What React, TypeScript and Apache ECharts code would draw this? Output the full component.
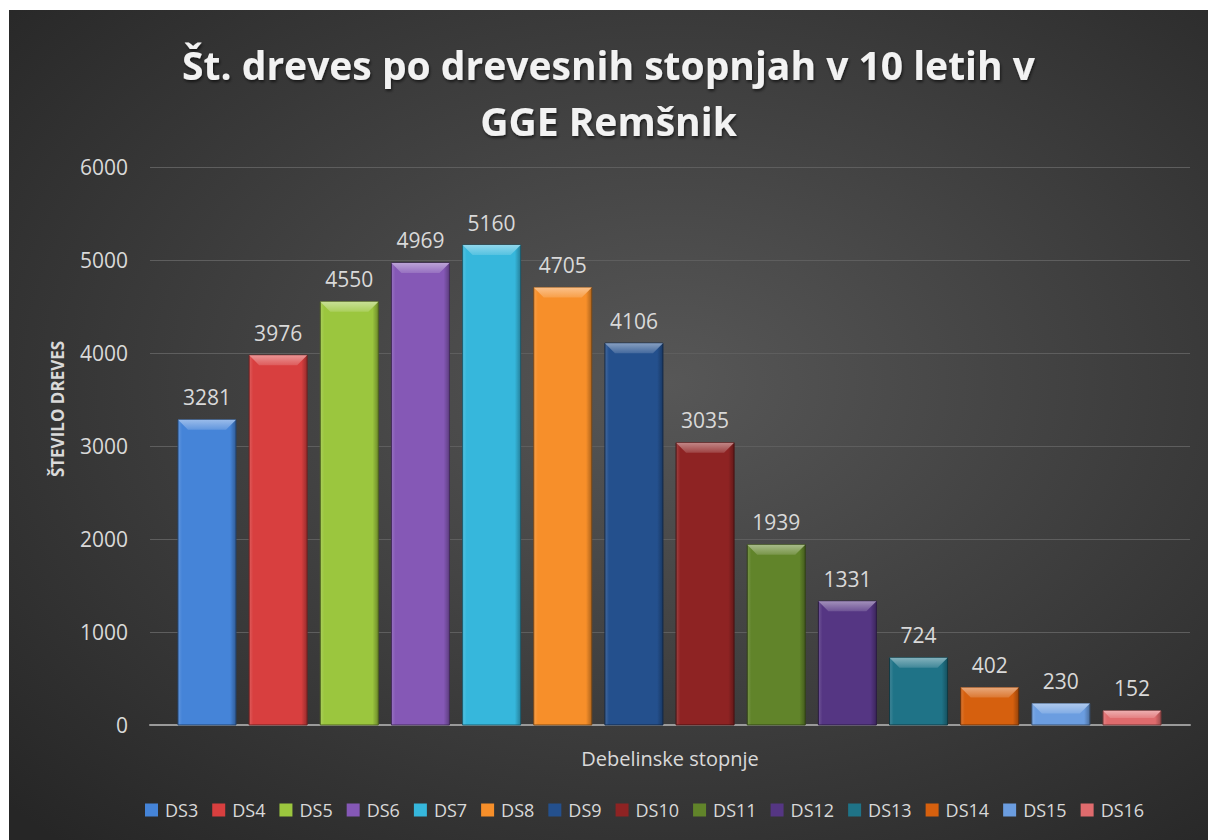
import React, { useEffect, useRef } from "react";
import * as echarts from "echarts";

const titleText = "Št. dreves po drevesnih stopnjah v 10 letih v\nGGE Remšnik";
const xAxisTitle = "Debelinske stopnje";
const yAxisTitle = "ŠTEVILO DREVES";
const categories = ["DS3", "DS4", "DS5", "DS6", "DS7", "DS8", "DS9", "DS10", "DS11", "DS12", "DS13", "DS14", "DS15", "DS16"];
const values = [3281, 3976, 4550, 4969, 5160, 4705, 4106, 3035, 1939, 1331, 724, 402, 230, 152];
const colors = ["#4584d8", "#d83f3f", "#9bc63e", "#8558b6", "#36b7dc", "#f78f2a", "#24508d", "#8e2323", "#61842a", "#553683", "#1f7387", "#d6600e", "#6b9de0", "#df6b6d"];
const yMin = 0;
const yMax = 6000;
const yInterval = 1000;

const FONT = "'Open Sans', 'Noto Sans', sans-serif";

function mix(hex: string, target: string, t: number): string {
  const p = (h: string) => [1, 3, 5].map((i) => parseInt(h.slice(i, i + 2), 16));
  const a = p(hex);
  const b = p(target);
  const c = a.map((v, i) => Math.round(v + (b[i] - v) * t));
  return `rgb(${c[0]},${c[1]},${c[2]})`;
}

export default function App() {
  const ref = useRef<HTMLDivElement>(null);
  useEffect(() => {
    if (!ref.current) return;
    const chart = echarts.init(ref.current, undefined, { renderer: "svg" });

    const renderItem = (params: any, api: any) => {
      const idx = api.value(0);
      const val = api.value(1);
      const top = api.coord([idx, val]);
      const base = api.coord([idx, 0]);
      const w = api.size([1, 0])[0] * 0.815;
      const x0 = top[0] - w / 2;
      const x1 = top[0] + w / 2;
      const y0 = top[1];
      const y1 = base[1];
      const h = y1 - y0;
      const b = Math.min(10, h / 2);
      const c = colors[params.seriesIndex];
      return {
        type: "group",
        children: [
          {
            type: "rect",
            shape: { x: x0, y: y0, width: w, height: h },
            style: {
              fill: new echarts.graphic.LinearGradient(0, 0, 1, 0, [
                { offset: 0, color: mix(c, "#ffffff", 0.15) },
                { offset: 0.07, color: c },
                { offset: 0.9, color: c },
                { offset: 1, color: mix(c, "#000000", 0.3) },
              ]),
              stroke: mix(c, "#000000", 0.5),
              lineWidth: 1,
            },
          },
          {
            type: "polygon",
            shape: { points: [[x0, y0], [x1, y0], [x1 - b, y0 + b], [x0 + b, y0 + b]] },
            style: {
              fill: new echarts.graphic.LinearGradient(0, 0, 0, 1, [
                { offset: 0, color: mix(c, "#ffffff", 0.45) },
                { offset: 1, color: mix(c, "#ffffff", 0.15) },
              ]),
            },
          },
          {
            type: "text",
            x: top[0],
            y: y0 - 12,
            style: {
              text: String(val),
              fill: "#d9d9d9",
              font: `21px ${FONT}`,
              align: "center",
              verticalAlign: "bottom",
            },
          },
        ],
      };
    };

    chart.setOption({
      animation: false,
      backgroundColor: {
        type: "radial",
        x: 0.55,
        y: 0.45,
        r: 0.75,
        colorStops: [
          { offset: 0, color: "#575757" },
          { offset: 1, color: "#262626" },
        ],
      },
      textStyle: { fontFamily: FONT },
      title: {
        text: titleText,
        left: "center",
        top: 21,
        textStyle: {
          color: "#f2f2f2",
          fontSize: 39,
          fontWeight: "bold",
          fontFamily: FONT,
          lineHeight: 56,
          textShadowColor: "rgba(0,0,0,0.6)",
          textShadowBlur: 3,
          textShadowOffsetX: 1,
          textShadowOffsetY: 2,
        },
      },
      legend: {
        left: 131,
        top: 786,
        icon: "rect",
        itemWidth: 13,
        itemHeight: 13,
        itemGap: 14,
        textStyle: { color: "#d9d9d9", fontSize: 18, fontFamily: FONT, padding: [0, 0, 0, 2] },
        data: categories,
      },
      grid: [
        { left: 141, right: 18, top: 157, bottom: 115 },
        { left: 162.4, right: 40.4, top: 157, bottom: 115 },
      ],
      xAxis: [
        {
          gridIndex: 0,
          type: "category",
          data: [""],
          axisLine: { lineStyle: { color: "#9a9a9a", width: 2 } },
          axisTick: { show: false },
          axisLabel: { show: false },
          name: xAxisTitle,
          nameLocation: "middle",
          nameGap: 23,
          nameTextStyle: { color: "#d9d9d9", fontSize: 20, fontFamily: FONT },
        },
        { gridIndex: 1, type: "category", data: categories, show: false },
      ],
      yAxis: [
        {
          gridIndex: 0,
          type: "value",
          min: yMin,
          max: yMax,
          interval: yInterval,
          axisLine: { show: false },
          axisTick: { show: false },
          axisLabel: {
            color: "#d9d9d9",
            fontSize: 21,
            margin: 22,
            fontFamily: FONT,
            formatter: (v: number) => String(v),
          },
          splitLine: { lineStyle: { color: "#5e5e5e", width: 1 } },
        },
        { gridIndex: 1, type: "value", min: yMin, max: yMax, interval: yInterval, show: false },
      ],
      graphic: [
        {
          type: "text",
          x: 48,
          y: 399,
          rotation: Math.PI / 2,
          style: {
            text: yAxisTitle,
            fill: "#d9d9d9",
            font: `bold 17px ${FONT}`,
            align: "center",
            verticalAlign: "middle",
          },
        },
      ],
      series: categories.map((name, i) => ({
        type: "custom",
        name,
        xAxisIndex: 1,
        yAxisIndex: 1,
        data: [[i, values[i]]],
        itemStyle: { color: colors[i] },
        encode: { x: 0, y: 1 },
        renderItem,
      })),
    });
    return () => chart.dispose();
  }, []);

  return (
    <div
      ref={ref}
      style={{ position: "absolute", left: 9, top: 10, width: 1199, height: 830 }}
    />
  );
}
